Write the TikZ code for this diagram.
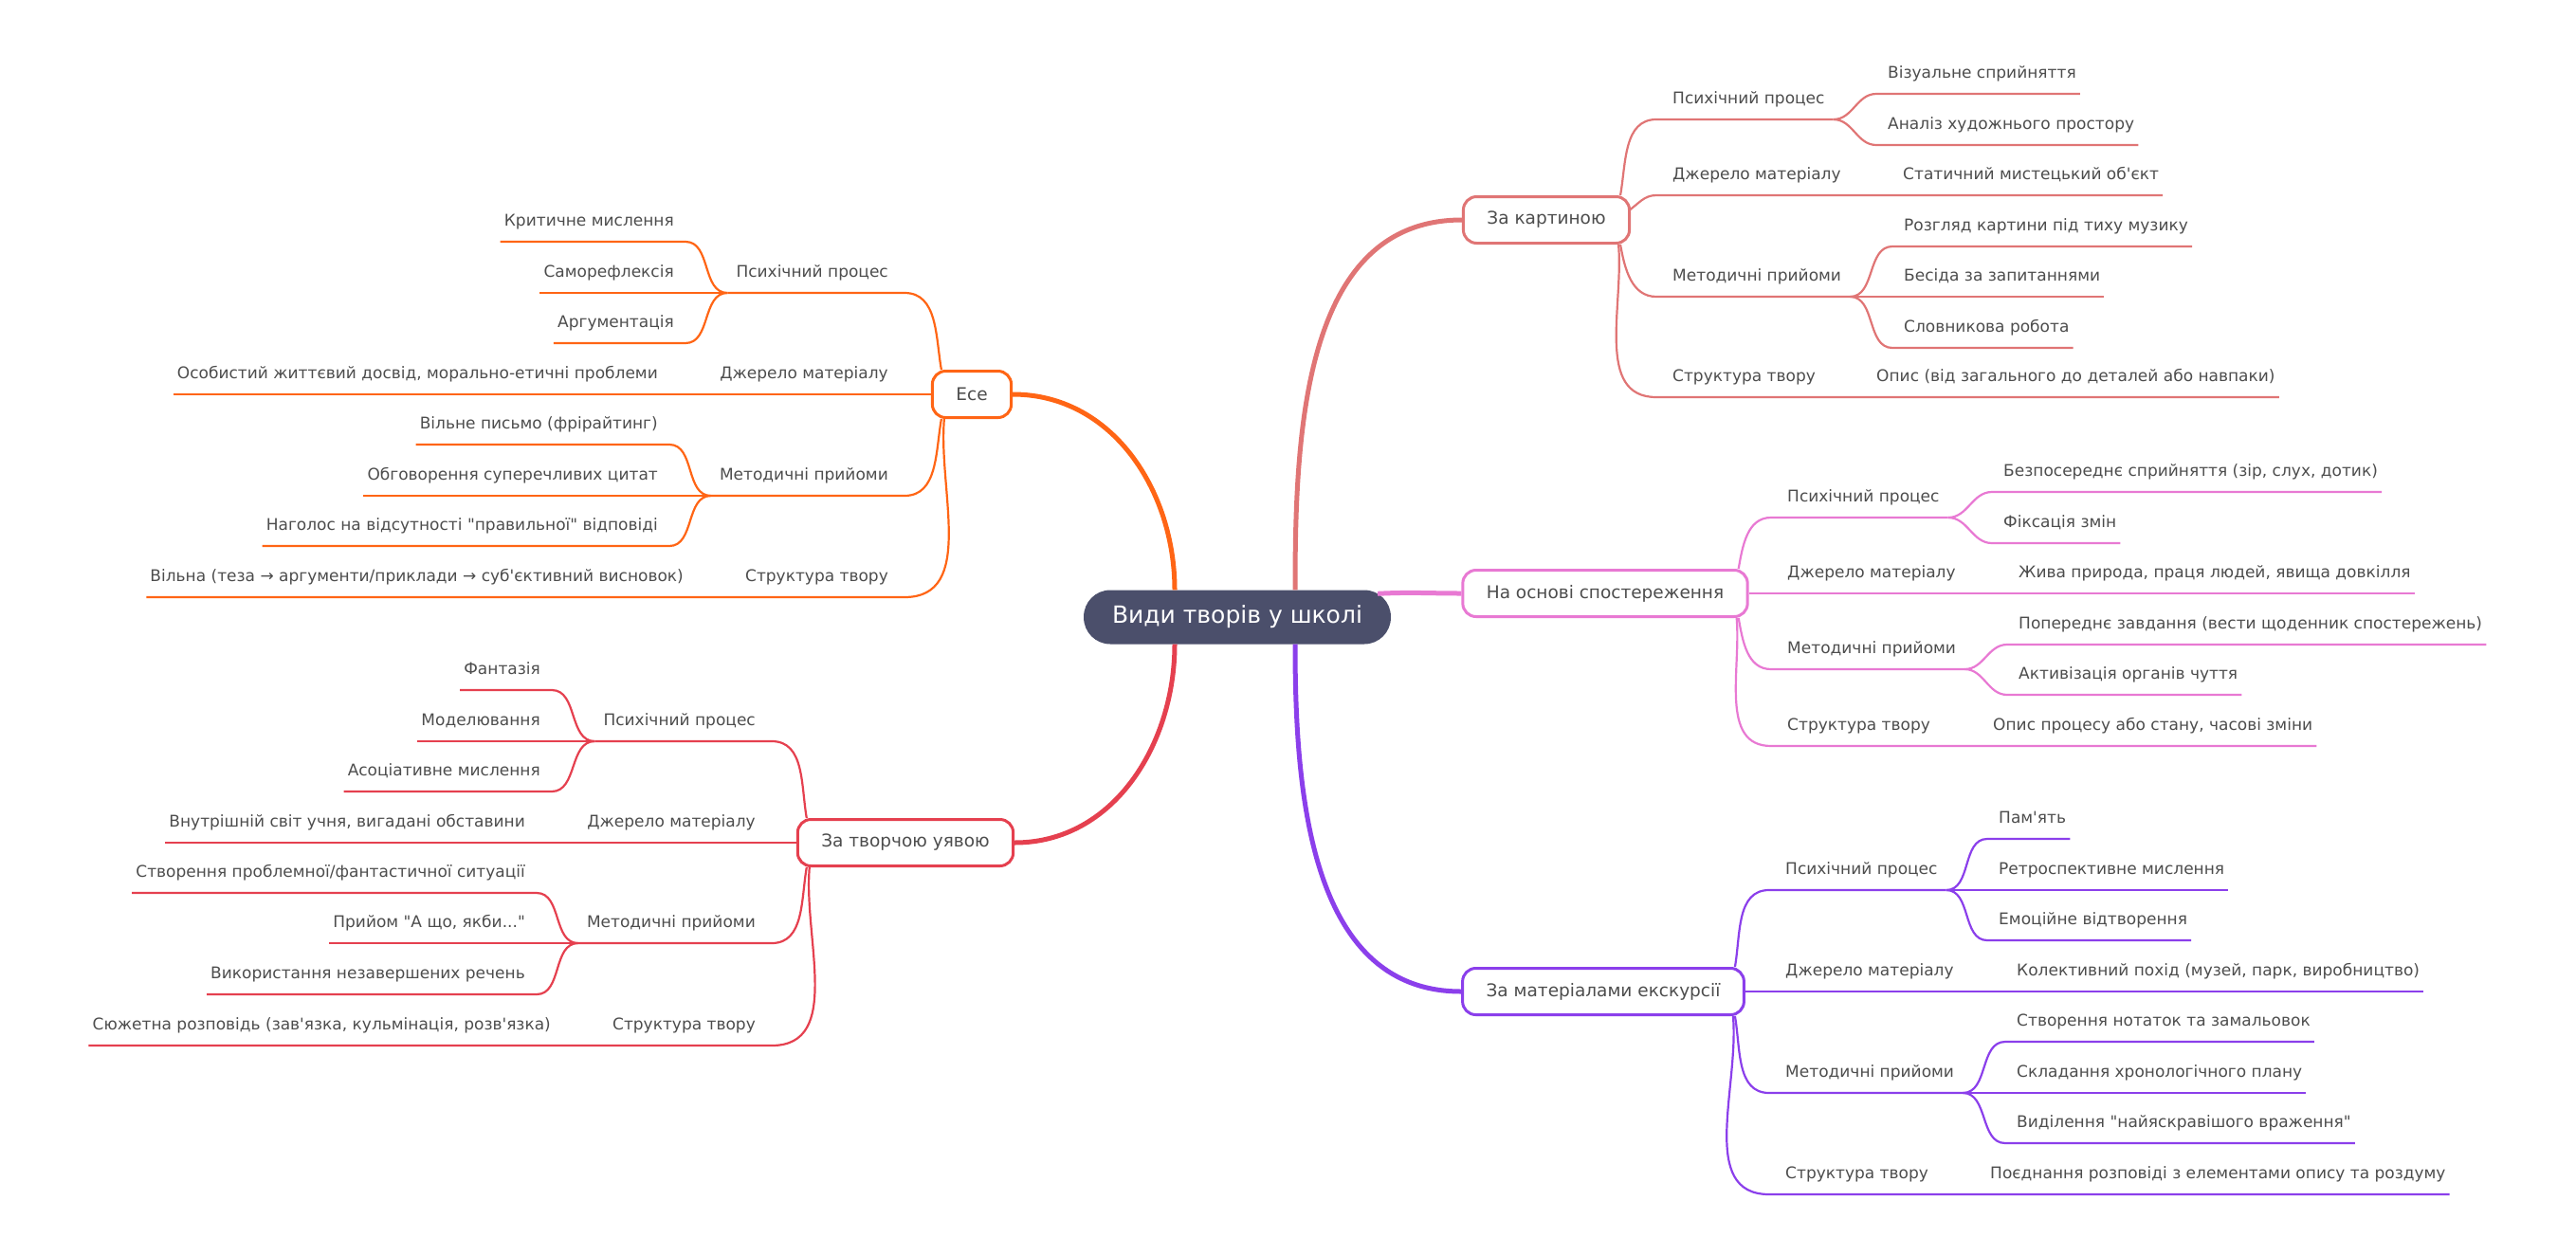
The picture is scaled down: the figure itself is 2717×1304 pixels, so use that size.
\documentclass[tikz,border=0pt]{standalone}
\usepackage{fontspec}
\setmainfont{DejaVu Sans}[Ligatures=TeXOff]
\usetikzlibrary{calc}
\definecolor{rootc}{HTML}{4B4F6B}
\definecolor{txtc}{HTML}{4D4D4D}
\definecolor{kartc}{HTML}{E07575}
\definecolor{sposc}{HTML}{E879D3}
\definecolor{ekskc}{HTML}{8B3FEB}
\definecolor{esec}{HTML}{FF6515}
\definecolor{uyavc}{HTML}{E5404F}
\begin{document}
\begin{tikzpicture}[x=1pt,y=-1pt,
 root/.style={rounded corners=28,fill=rootc,text=white,minimum height=57,inner xsep=30,font=\fontsize{25}{29}\selectfont},
 topic/.style={draw,line width=3,rounded corners=14,fill=white,minimum height=49,inner xsep=25,text=txtc,font=\fontsize{18.5}{22}\selectfont},
 sub/.style={inner xsep=9,inner ysep=11,text height=12.5,text depth=5,text=txtc,font=\fontsize{17}{20}\selectfont},
 leaf/.style={sub,inner xsep=4},
 main/.style={line width=5},
 link/.style={line width=2.2}]
 \useasboundingbox (0,0) rectangle (2717,1304);
 \node[root] (root) at (1305,651) {Види творів у школі};

 % За картиною
 \node[topic,draw=kartc] (k1) at (1631,232) {За картиною};
 \node[sub,anchor=south west] (k1a) at (1755,126) {Психічний процес};
 \node[leaf,anchor=south west] (k1a1) at (1987,99) {Візуальне сприйняття};
 \node[leaf,anchor=south west] (k1a2) at (1987,153) {Аналіз художнього простору};
 \node[sub,anchor=south west] (k1b) at (1755,206) {Джерело матеріалу};
 \node[leaf,anchor=south west] (k1b1) at (2003,206) {Статичний мистецький об'єкт};
 \node[sub,anchor=south west] (k1c) at (1755,313) {Методичні прийоми};
 \node[leaf,anchor=south west] (k1c1) at (2004,260) {Розгляд картини під тиху музику};
 \node[leaf,anchor=south west] (k1c2) at (2004,313) {Бесіда за запитаннями};
 \node[leaf,anchor=south west] (k1c3) at (2004,367) {Словникова робота};
 \node[sub,anchor=south west] (k1d) at (1755,419) {Структура твору};
 \node[leaf,anchor=south west] (k1d1) at (1975,419) {Опис (від загального до деталей або навпаки)};

 % На основі спостереження
 \node[topic,draw=sposc] (k2) at (1693,626) {На основі спостереження};
 \node[sub,anchor=south west] (k2a) at (1876,546) {Психічний процес};
 \node[leaf,anchor=south west] (k2a1) at (2109,519) {Безпосереднє сприйняття (зір, слух, дотик)};
 \node[leaf,anchor=south west] (k2a2) at (2109,573) {Фіксація змін};
 \node[sub,anchor=south west] (k2b) at (1876,626) {Джерело матеріалу};
 \node[leaf,anchor=south west] (k2b1) at (2125,626) {Жива природа, праця людей, явища довкілля};
 \node[sub,anchor=south west] (k2c) at (1876,706) {Методичні прийоми};
 \node[leaf,anchor=south west] (k2c1) at (2125,680) {Попереднє завдання (вести щоденник спостережень)};
 \node[leaf,anchor=south west] (k2c2) at (2125,733) {Активізація органів чуття};
 \node[sub,anchor=south west] (k2d) at (1876,787) {Структура твору};
 \node[leaf,anchor=south west] (k2d1) at (2098,787) {Опис процесу або стану, часові зміни};

 % За матеріалами екскурсії
 \node[topic,draw=ekskc] (k3) at (1691,1046) {За матеріалами екскурсії};
 \node[sub,anchor=south west] (k3a) at (1874,939) {Психічний процес};
 \node[leaf,anchor=south west] (k3a1) at (2104,885) {Пам'ять};
 \node[leaf,anchor=south west] (k3a2) at (2104,939) {Ретроспективне мислення};
 \node[leaf,anchor=south west] (k3a3) at (2104,992) {Емоційне відтворення};
 \node[sub,anchor=south west] (k3b) at (1874,1046) {Джерело матеріалу};
 \node[leaf,anchor=south west] (k3b1) at (2123,1046) {Колективний похід (музей, парк, виробництво)};
 \node[sub,anchor=south west] (k3c) at (1874,1153) {Методичні прийоми};
 \node[leaf,anchor=south west] (k3c1) at (2123,1099) {Створення нотаток та замальовок};
 \node[leaf,anchor=south west] (k3c2) at (2123,1153) {Складання хронологічного плану};
 \node[leaf,anchor=south west] (k3c3) at (2123,1206) {Виділення "найяскравішого враження"};
 \node[sub,anchor=south west] (k3d) at (1874,1260) {Структура твору};
 \node[leaf,anchor=south west] (k3d1) at (2095,1260) {Поєднання розповіді з елементами опису та роздуму};

 % Есе
 \node[topic,draw=esec] (k4) at (1025,416) {Есе};
 \node[sub,anchor=south east] (k4a) at (946,309) {Психічний процес};
 \node[leaf,anchor=south east] (k4a1) at (715,255) {Критичне мислення};
 \node[leaf,anchor=south east] (k4a2) at (715,309) {Саморефлексія};
 \node[leaf,anchor=south east] (k4a3) at (715,362) {Аргументація};
 \node[sub,anchor=south east] (k4b) at (946,416) {Джерело матеріалу};
 \node[leaf,anchor=south east] (k4b1) at (698,416) {Особистий життєвий досвід, морально-етичні проблеми};
 \node[sub,anchor=south east] (k4c) at (946,523) {Методичні прийоми};
 \node[leaf,anchor=south east] (k4c1) at (698,469) {Вільне письмо (фрірайтинг)};
 \node[leaf,anchor=south east] (k4c2) at (698,523) {Обговорення суперечливих цитат};
 \node[leaf,anchor=south east] (k4c3) at (698,576) {Наголос на відсутності "правильної" відповіді};
 \node[sub,anchor=south east] (k4d) at (946,630) {Структура твору};
 \node[leaf,anchor=south east] (k4d1) at (725,630) {Вільна (теза → аргументи/приклади → суб'єктивний висновок)};

 % За творчою уявою
 \node[topic,draw=uyavc] (k5) at (955,889) {За творчою уявою};
 \node[sub,anchor=south east] (k5a) at (806,782) {Психічний процес};
 \node[leaf,anchor=south east] (k5a1) at (574,728) {Фантазія};
 \node[leaf,anchor=south east] (k5a2) at (574,782) {Моделювання};
 \node[leaf,anchor=south east] (k5a3) at (574,835) {Асоціативне мислення};
 \node[sub,anchor=south east] (k5b) at (806,889) {Джерело матеріалу};
 \node[leaf,anchor=south east] (k5b1) at (558,889) {Внутрішній світ учня, вигадані обставини};
 \node[sub,anchor=south east] (k5c) at (806,995) {Методичні прийоми};
 \node[leaf,anchor=south east] (k5c1) at (558,942) {Створення проблемної/фантастичної ситуації};
 \node[leaf,anchor=south east] (k5c2) at (558,995) {Прийом "А що, якби..."};
 \node[leaf,anchor=south east] (k5c3) at (558,1049) {Використання незавершених речень};
 \node[sub,anchor=south east] (k5d) at (806,1103) {Структура твору};
 \node[leaf,anchor=south east] (k5d1) at (585,1103) {Сюжетна розповідь (зав'язка, кульмінація, розв'язка)};

 % main branches
 \draw[main,esec] ($(root.north)+(-66,0)$) to[out=90,in=0] (k4.east);
 \draw[main,kartc] ($(root.north)+(61,0)$) to[out=90,in=180] (k1.west);
 \draw[main,sposc] ($(root.north east)+(-14,4)$) to[out=3,in=180] (k2.west);
 \draw[main,ekskc] ($(root.south)+(61,0)$) to[out=-90,in=180] (k3.west);
 \draw[main,uyavc] ($(root.south)+(-66,0)$) to[out=-90,in=0] (k5.east);

 \begin{scope}[link,kartc]
 \draw ($(k1.north east)+(-11,0)$) to[out=80,in=180] ($(k1a.south west)+(-8,0)$) -- (k1a.south east);
 \draw ($(k1.east)+(-2,-10)$) to[out=35,in=180] ($(k1b.south west)+(-8,0)$) -- (k1b.south east) -- ($(k1b1.south west)+(-8,0)$) -- (k1b1.south east);
 \draw ($(k1.south east)+(-11,0)$) to[out=-80,in=180] ($(k1c.south west)+(-8,0)$) -- (k1c.south east);
 \draw ($(k1.south east)+(-13,0)$) to[out=-85,in=180] ($(k1d.south west)+(-8,0)$) -- (k1d.south east) -- ($(k1d1.south west)+(-8,0)$) -- (k1d1.south east);
 \draw (k1a.south east) to[out=0,in=180] ($(k1a1.south west)+(-8,0)$) -- (k1a1.south east);
 \draw (k1a.south east) to[out=0,in=180] ($(k1a2.south west)+(-8,0)$) -- (k1a2.south east);
 \draw (k1c.south east) to[out=0,in=180] ($(k1c1.south west)+(-8,0)$) -- (k1c1.south east);
 \draw (k1c.south east) -- ($(k1c2.south west)+(-8,0)$) -- (k1c2.south east);
 \draw (k1c.south east) to[out=0,in=180] ($(k1c3.south west)+(-8,0)$) -- (k1c3.south east);
 \end{scope}

 \begin{scope}[link,sposc]
 \draw ($(k2.north east)+(-11,0)$) to[out=80,in=180] ($(k2a.south west)+(-8,0)$) -- (k2a.south east);
 \draw (k2.east) -- ($(k2b.south west)+(-8,0)$) -- (k2b.south east) -- ($(k2b1.south west)+(-8,0)$) -- (k2b1.south east);
 \draw ($(k2.south east)+(-11,0)$) to[out=-80,in=180] ($(k2c.south west)+(-8,0)$) -- (k2c.south east);
 \draw ($(k2.south east)+(-13,0)$) to[out=-85,in=180] ($(k2d.south west)+(-8,0)$) -- (k2d.south east) -- ($(k2d1.south west)+(-8,0)$) -- (k2d1.south east);
 \draw (k2a.south east) to[out=0,in=180] ($(k2a1.south west)+(-8,0)$) -- (k2a1.south east);
 \draw (k2a.south east) to[out=0,in=180] ($(k2a2.south west)+(-8,0)$) -- (k2a2.south east);
 \draw (k2c.south east) to[out=0,in=180] ($(k2c1.south west)+(-8,0)$) -- (k2c1.south east);
 \draw (k2c.south east) to[out=0,in=180] ($(k2c2.south west)+(-8,0)$) -- (k2c2.south east);
 \end{scope}

 \begin{scope}[link,ekskc]
 \draw ($(k3.north east)+(-11,0)$) to[out=80,in=180] ($(k3a.south west)+(-8,0)$) -- (k3a.south east);
 \draw (k3.east) -- ($(k3b.south west)+(-8,0)$) -- (k3b.south east) -- ($(k3b1.south west)+(-8,0)$) -- (k3b1.south east);
 \draw ($(k3.south east)+(-11,0)$) to[out=-80,in=180] ($(k3c.south west)+(-8,0)$) -- (k3c.south east);
 \draw ($(k3.south east)+(-13,0)$) to[out=-85,in=180] ($(k3d.south west)+(-8,0)$) -- (k3d.south east) -- ($(k3d1.south west)+(-8,0)$) -- (k3d1.south east);
 \draw (k3a.south east) to[out=0,in=180] ($(k3a1.south west)+(-8,0)$) -- (k3a1.south east);
 \draw (k3a.south east) -- ($(k3a2.south west)+(-8,0)$) -- (k3a2.south east);
 \draw (k3a.south east) to[out=0,in=180] ($(k3a3.south west)+(-8,0)$) -- (k3a3.south east);
 \draw (k3c.south east) to[out=0,in=180] ($(k3c1.south west)+(-8,0)$) -- (k3c1.south east);
 \draw (k3c.south east) -- ($(k3c2.south west)+(-8,0)$) -- (k3c2.south east);
 \draw (k3c.south east) to[out=0,in=180] ($(k3c3.south west)+(-8,0)$) -- (k3c3.south east);
 \end{scope}

 \begin{scope}[link,esec]
 \draw ($(k4.north west)+(11,0)$) to[out=100,in=0] ($(k4a.south east)+(8,0)$) -- (k4a.south west);
 \draw (k4.west) -- ($(k4b.south east)+(8,0)$) -- (k4b.south west) -- ($(k4b1.south east)+(8,0)$) -- (k4b1.south west);
 \draw ($(k4.south west)+(11,0)$) to[out=-100,in=0] ($(k4c.south east)+(8,0)$) -- (k4c.south west);
 \draw ($(k4.south west)+(14,0)$) to[out=-95,in=0] ($(k4d.south east)+(8,0)$) -- (k4d.south west) -- ($(k4d1.south east)+(8,0)$) -- (k4d1.south west);
 \draw (k4a.south west) to[out=180,in=0] ($(k4a1.south east)+(8,0)$) -- (k4a1.south west);
 \draw (k4a.south west) -- ($(k4a2.south east)+(8,0)$) -- (k4a2.south west);
 \draw (k4a.south west) to[out=180,in=0] ($(k4a3.south east)+(8,0)$) -- (k4a3.south west);
 \draw (k4c.south west) to[out=180,in=0] ($(k4c1.south east)+(8,0)$) -- (k4c1.south west);
 \draw (k4c.south west) -- ($(k4c2.south east)+(8,0)$) -- (k4c2.south west);
 \draw (k4c.south west) to[out=180,in=0] ($(k4c3.south east)+(8,0)$) -- (k4c3.south west);
 \end{scope}

 \begin{scope}[link,uyavc]
 \draw ($(k5.north west)+(11,0)$) to[out=100,in=0] ($(k5a.south east)+(8,0)$) -- (k5a.south west);
 \draw (k5.west) -- ($(k5b.south east)+(8,0)$) -- (k5b.south west) -- ($(k5b1.south east)+(8,0)$) -- (k5b1.south west);
 \draw ($(k5.south west)+(11,0)$) to[out=-100,in=0] ($(k5c.south east)+(8,0)$) -- (k5c.south west);
 \draw ($(k5.south west)+(14,0)$) to[out=-95,in=0] ($(k5d.south east)+(8,0)$) -- (k5d.south west) -- ($(k5d1.south east)+(8,0)$) -- (k5d1.south west);
 \draw (k5a.south west) to[out=180,in=0] ($(k5a1.south east)+(8,0)$) -- (k5a1.south west);
 \draw (k5a.south west) -- ($(k5a2.south east)+(8,0)$) -- (k5a2.south west);
 \draw (k5a.south west) to[out=180,in=0] ($(k5a3.south east)+(8,0)$) -- (k5a3.south west);
 \draw (k5c.south west) to[out=180,in=0] ($(k5c1.south east)+(8,0)$) -- (k5c1.south west);
 \draw (k5c.south west) -- ($(k5c2.south east)+(8,0)$) -- (k5c2.south west);
 \draw (k5c.south west) to[out=180,in=0] ($(k5c3.south east)+(8,0)$) -- (k5c3.south west);
 \end{scope}
\end{tikzpicture}
\end{document}
